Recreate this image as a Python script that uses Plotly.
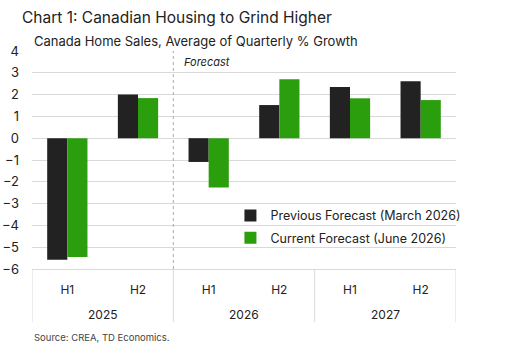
import plotly.graph_objects as go

years = ["2025", "2026", "2027"]
halves = ["H1", "H2", "H1", "H2", "H1", "H2"]
previous = [-5.57, 2.0, -1.09, 1.52, 2.35, 2.61]
current = [-5.45, 1.84, -2.26, 2.70, 1.83, 1.75]
y_ticks = [4, 3, 2, 1, 0, -1, -2, -3, -4, -5, -6]

FONT = "Inter"
BLACK = "#222222"
GREEN = "#2b9e0e"
GRID = "#d9d9d9"
PH = 218.0  # plot height in px

xpos = list(range(len(halves)))

fig = go.Figure()
fig.add_trace(go.Bar(x=xpos, y=previous, name="Previous Forecast (March 2026)",
                     legendgroup="a", marker=dict(color=BLACK, line=dict(width=0))))
fig.add_trace(go.Bar(x=xpos, y=current, name="Current Forecast (June 2026)",
                     legendgroup="b", marker=dict(color=GREEN, line=dict(width=0))))

fig.update_layout(
    width=512, height=349,
    margin=dict(l=32, r=56, t=51, b=80),
    paper_bgcolor="white", plot_bgcolor="white",
    font=dict(family=FONT, size=12, color="#222222"),
    barmode="group", bargap=0.43, bargroupgap=0,
    showlegend=True,
    legend=dict(x=0.468, y=0.312, xanchor="left", yanchor="top", traceorder="grouped",
                bgcolor="rgba(0,0,0,0)", font=dict(size=12.5, color="#222222"),
                tracegroupgap=3),
    xaxis=dict(range=[-0.5, 5.5], tickvals=xpos, ticktext=halves, showline=True,
               linecolor=GRID, linewidth=1, ticks="", showgrid=False, zeroline=False,
               automargin=False, ticklabelstandoff=10,
               tickfont=dict(size=12, color="#222222")),
    yaxis=dict(range=[-6, 4], tickvals=y_ticks, showgrid=True, gridcolor=GRID, gridwidth=1,
               zeroline=True, zerolinecolor=GRID, zerolinewidth=1, automargin=False,
               tickfont=dict(size=13, color="#222222"), ticks="", ticklabelstandoff=12),
)

# Year group dividers and labels
for b in [-0.5, 1.5, 3.5, 5.5]:
    fig.add_shape(type="line", xref="x", yref="paper", x0=b, x1=b, y0=0, y1=-(322 - 269) / PH,
                  line=dict(color=GRID, width=1))
for i, yr in enumerate(years):
    fig.add_annotation(text=yr, xref="x", yref="paper", x=2 * i + 0.5, y=-(314 - 269) / PH,
                       xanchor="center", yanchor="middle", showarrow=False,
                       font=dict(size=12, color="#222222"))

# Forecast divider (dotted)
fig.add_shape(type="line", xref="x", yref="paper", x0=1.5, x1=1.5, y0=0, y1=1,
              line=dict(color="#aaaaaa", width=1, dash="dot"))
fig.add_annotation(text="<i>Forecast</i>", xref="x", yref="paper", x=1.62, y=1 - (62 - 51) / PH,
                   xanchor="left", yanchor="middle", showarrow=False,
                   font=dict(size=11, color="#222222"))

fig.add_annotation(text="Chart 1: Canadian Housing to Grind Higher", xref="paper", yref="paper",
                   x=-12 / 424, y=1 + (51 - 17) / PH, xanchor="left", yanchor="middle",
                   showarrow=False, font=dict(size=15.5, color="#222222"))
fig.add_annotation(text="Canada Home Sales, Average of Quarterly % Growth", xref="paper", yref="paper",
                   x=0, y=1 + (51 - 41) / PH, xanchor="left", yanchor="middle",
                   showarrow=False, font=dict(size=13, color="#222222"))
fig.add_annotation(text="Source: CREA, TD Economics.", xref="paper", yref="paper",
                   x=0, y=-(337 - 269) / PH, xanchor="left", yanchor="middle",
                   showarrow=False, font=dict(size=9.5, color="#444444"))

fig.write_html("out.html")
